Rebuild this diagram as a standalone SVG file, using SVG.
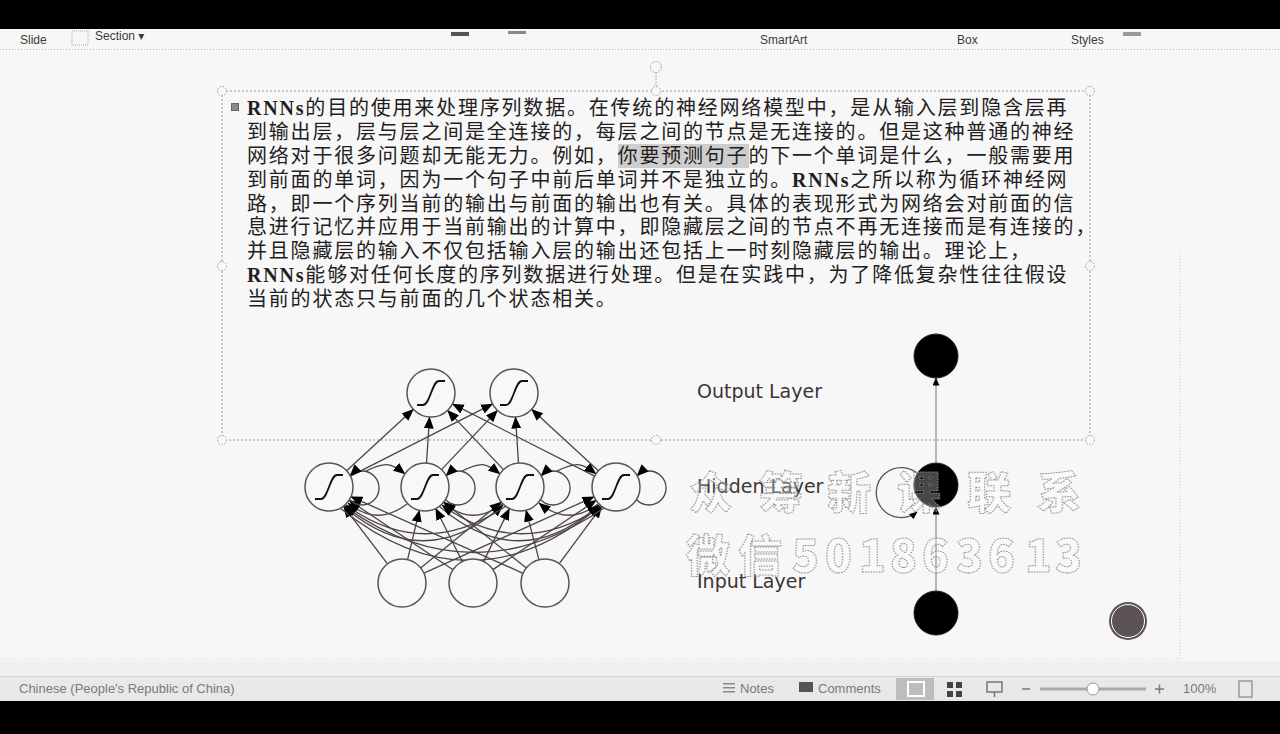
<svg xmlns="http://www.w3.org/2000/svg" width="1280" height="734" viewBox="0 0 1280 734">
<style>
.ui{font-family:"Liberation Sans","DejaVu Sans",sans-serif;font-size:12px;fill:#3a3a3a}
.st{font-family:"Liberation Sans","DejaVu Sans",sans-serif;font-size:13px;fill:#7a7a7a}
.body{font-family:"Noto Sans CJK SC",sans-serif;font-size:20px;letter-spacing:1.8px;fill:#241d1d}
.b{font-family:"Liberation Serif","Noto Sans CJK SC",serif;font-weight:bold}
.lbl{font-family:"DejaVu Sans",sans-serif;font-size:19px;fill:#3b3434}
.nd{fill:#f8f8f8;stroke:#5b5353;stroke-width:1.5}
.sig{fill:none;stroke:#111;stroke-width:1.8}
.e{fill:none;stroke:#4d4545;stroke-width:1.3;marker-end:url(#ah)}
.hd{fill:#f8f8f8;stroke:#9a9a9a;stroke-width:1;stroke-dasharray:1.5 1.5}
.wm{font-family:"Noto Sans CJK SC",sans-serif;font-weight:900;font-size:44px;fill:#ffffff;fill-opacity:0.3;stroke:#8a8a8a;stroke-width:1;stroke-dasharray:1.5 1.2}
.blk{fill:#000;stroke:#222;stroke-width:1}
.rl{stroke:#8c8c8c;stroke-width:1.2;fill:none;marker-end:url(#sa)}
</style>
<defs>
<marker id="ah" viewBox="0 0 12 10" refX="11.5" refY="5" markerWidth="12" markerHeight="10" markerUnits="userSpaceOnUse" orient="auto"><path d="M0,0 L12,5 L0,10 z" fill="#000"/></marker>
<marker id="sa" viewBox="0 0 8 7" refX="7.5" refY="3.5" markerWidth="8" markerHeight="7" markerUnits="userSpaceOnUse" orient="auto"><path d="M0,0 L8,3.5 L0,7 z" fill="#000"/></marker>
<path id="sg" d="M-14,12 H-8 C-1,12 1,-12 8,-12 H14" class="sig"/>
</defs>

<!-- window chrome -->
<rect x="0" y="0" width="1280" height="734" fill="#f7f7f7"/>
<rect x="0" y="0" width="1280" height="29" fill="#000"/>
<rect x="0" y="29" width="1280" height="20" fill="#f7f7f7"/>
<line x1="0" y1="49.5" x2="1280" y2="49.5" stroke="#b5b5b5" stroke-dasharray="1 2"/>
<text class="ui" x="20" y="44">Slide</text>
<rect x="72" y="31" width="16" height="14" fill="none" stroke="#aaa" stroke-dasharray="1 1"/>
<text class="ui" x="95" y="40">Section ▾</text>
<rect x="451" y="32" width="18" height="4" fill="#555"/>
<rect x="508" y="31" width="18" height="3" fill="#888"/>
<rect x="1123" y="32" width="18" height="4" fill="#999"/>
<text class="ui" x="760" y="44">SmartArt</text>
<text class="ui" x="957" y="44">Box</text>
<text class="ui" x="1071" y="44">Styles</text>

<!-- slide edges -->
<line x1="1180" y1="250" x2="1180" y2="660" stroke="#d0d0d0" stroke-dasharray="1 2"/>
<line x1="0" y1="659" x2="1180" y2="659" stroke="#d0d0d0" stroke-dasharray="1 2"/>
<rect x="0" y="661" width="1280" height="15" fill="#f0f0f0"/>

<!-- status bar -->
<rect x="0" y="676" width="1280" height="25" fill="#e8e8e8"/>
<line x1="0" y1="676.5" x2="1280" y2="676.5" stroke="#d4d4d4"/>
<text class="st" x="19" y="693">Chinese (People's Republic of China)</text>
<g fill="#8a8a8a"><rect x="723" y="683" width="12" height="1.5"/><rect x="723" y="687" width="12" height="1.5"/><rect x="723" y="691" width="12" height="1.5"/></g>
<text class="st" x="740" y="693">Notes</text>
<rect x="799" y="682" width="14" height="10" fill="#555"/>
<text class="st" x="818" y="693">Comments</text>
<rect x="896" y="678" width="38" height="22" fill="#bdbdbd"/>
<rect x="908" y="682" width="16" height="14" fill="none" stroke="#fff" stroke-width="2"/>
<g fill="#444"><rect x="947" y="682" width="6" height="6"/><rect x="956" y="682" width="6" height="6"/><rect x="947" y="691" width="6" height="6"/><rect x="956" y="691" width="6" height="6"/></g>
<rect x="987" y="682" width="15" height="10" fill="none" stroke="#777" stroke-width="1.5"/>
<line x1="994.5" y1="692" x2="994.5" y2="697" stroke="#777" stroke-width="1.5"/>
<line x1="1022" y1="689" x2="1030" y2="689" stroke="#777" stroke-width="1.5"/>
<line x1="1040" y1="689" x2="1146" y2="689" stroke="#aaa" stroke-width="3"/>
<circle cx="1093" cy="689" r="6" fill="#fff" stroke="#999"/>
<path d="M1155,689 H1164 M1159.5,684.5 V693.5" stroke="#777" stroke-width="1.5"/>
<text class="st" x="1183" y="693">100%</text>
<rect x="1239" y="681" width="13" height="16" fill="none" stroke="#999" stroke-width="1.5"/>
<rect x="0" y="701" width="1280" height="33" fill="#000"/>

<!-- text box -->
<g id="textbox">
<rect x="222" y="91" width="868" height="349" fill="none" stroke="#9a9a9a" stroke-width="1" stroke-dasharray="2 2"/>
<line x1="656" y1="73" x2="656" y2="87" stroke="#9a9a9a" stroke-dasharray="1 1"/>
<circle cx="656" cy="67" r="5.5" fill="#f8f8f8" stroke="#9a9a9a" stroke-dasharray="1.5 1"/>
<circle class="hd" cx="222" cy="91" r="4.5"/><circle class="hd" cx="656" cy="91" r="4.5"/><circle class="hd" cx="1090" cy="91" r="4.5"/>
<circle class="hd" cx="222" cy="266" r="4.5"/><circle class="hd" cx="1090" cy="266" r="4.5"/>
<circle class="hd" cx="222" cy="440" r="4.5"/><circle class="hd" cx="656" cy="440" r="4.5"/><circle class="hd" cx="1090" cy="440" r="4.5"/>
<rect x="231.5" y="103.5" width="7" height="7" fill="#8a8a8a" stroke="#666" stroke-width="1"/>
<rect x="618" y="144" width="131" height="24" fill="#cdcdcd"/>
<text class="body" x="247" y="115"><tspan class="b">RNNs</tspan>的目的使用来处理序列数据。在传统的神经网络模型中，是从输入层到隐含层再</text>
<text class="body" x="247" y="139">到输出层，层与层之间是全连接的，每层之间的节点是无连接的。但是这种普通的神经</text>
<text class="body" x="247" y="163">网络对于很多问题却无能无力。例如，你要预测句子的下一个单词是什么，一般需要用</text>
<text class="body" x="247" y="187">到前面的单词，因为一个句子中前后单词并不是独立的。<tspan class="b">RNNs</tspan>之所以称为循环神经网</text>
<text class="body" x="247" y="211">路，即一个序列当前的输出与前面的输出也有关。具体的表现形式为网络会对前面的信</text>
<text class="body" x="247" y="234">息进行记忆并应用于当前输出的计算中，即隐藏层之间的节点不再无连接而是有连接的，</text>
<text class="body" x="247" y="258">并且隐藏层的输入不仅包括输入层的输出还包括上一时刻隐藏层的输出。理论上，</text>
<text class="body" x="247" y="282"><tspan class="b">RNNs</tspan>能够对任何长度的序列数据进行处理。但是在实践中，为了降低复杂性往往假设</text>
<text class="body" x="247" y="306">当前的状态只与前面的几个状态相关。</text>
</g>

<!-- left network connectors -->
<g id="connectors">
<path class="e" d="M346.6,470.7 L413.4,409.3"/>
<path class="e" d="M350.4,476.1 L492.6,403.9"/>
<path class="e" d="M426.5,463 L429.5,417"/>
<path class="e" d="M441.5,469.6 L497.5,410.4"/>
<path class="e" d="M503.5,469.6 L447.5,410.4"/>
<path class="e" d="M518.5,463 L515.5,417"/>
<path class="e" d="M594.6,476.1 L452.4,403.9"/>
<path class="e" d="M598.4,470.7 L531.6,409.3"/>
<path class="e" d="M387.5,563.9 L343.5,506.1"/>
<path class="e" d="M407.6,559.6 L419.4,510.4"/>
<path class="e" d="M420.6,567.9 L501.4,502.1"/>
<path class="e" d="M423.9,573.2 L594.1,496.8"/>
<path class="e" d="M453,569.7 L349,500.3"/>
<path class="e" d="M462.3,561.5 L435.7,508.5"/>
<path class="e" d="M483.6,561.4 L509.4,508.6"/>
<path class="e" d="M492.9,569.6 L596.1,500.4"/>
<path class="e" d="M523.1,573.3 L350.9,496.7"/>
<path class="e" d="M526.3,568 L443.7,502"/>
<path class="e" d="M539,559.8 L526,510.2"/>
<path class="e" d="M559.3,563.7 L601.7,506.3"/>
<path class="e" d="M350,500 A17,17 0 1 0 350,476"/>
<path class="e" d="M446,500 A17,17 0 1 0 446,476"/>
<path class="e" d="M541,500 A17,17 0 1 0 541,476"/>
<path class="e" d="M637,500 A17,17 0 1 0 637,476"/>
<path class="e" d="M366,471 C385,462 390,462 405,474"/>
<path class="e" d="M462,471 C481,462 485,462 500,474"/>
<path class="e" d="M557,471 C576,462 581,462 596,474"/>
<path class="e" d="M407,504 Q377,527 348,503"/>
<path class="e" d="M502,504 Q472,527 444,503"/>
<path class="e" d="M598,504 Q568,527 539,503"/>
<path class="e" d="M343,506 Q424,576 503,505"/>
<path class="e" d="M506,506 Q424,562 346,505"/>
<path class="e" d="M439,506 Q520,576 599,505"/>
<path class="e" d="M602,506 Q520,562 442,505"/>
<path class="e" d="M340,508 Q472,614 600,506"/>
<path class="e" d="M604,508 Q472,598 344,506"/>
<path class="rl" d="M936,591 L936,507"/>
<path class="rl" d="M936,462 L936,378"/>
<path d="M920,476 A25,25 0 1 0 917,512" fill="none" stroke="#5b5353" stroke-width="1.3" marker-end="url(#sa)"/>
</g>

<!-- left network nodes -->
<g id="out1"><circle class="nd" cx="431" cy="393" r="24"/><use href="#sg" x="431" y="393"/></g>
<g id="out2"><circle class="nd" cx="514" cy="393" r="24"/><use href="#sg" x="514" y="393"/></g>
<g id="hid1"><circle class="nd" cx="329" cy="487" r="24"/><use href="#sg" x="329" y="487"/></g>
<g id="hid2"><circle class="nd" cx="425" cy="487" r="24"/><use href="#sg" x="425" y="487"/></g>
<g id="hid3"><circle class="nd" cx="520" cy="487" r="24"/><use href="#sg" x="520" y="487"/></g>
<g id="hid4"><circle class="nd" cx="616" cy="487" r="24"/><use href="#sg" x="616" y="487"/></g>
<g id="in1"><circle class="nd" cx="402" cy="583" r="24"/></g>
<g id="in2"><circle class="nd" cx="473" cy="583" r="24"/></g>
<g id="in3"><circle class="nd" cx="545" cy="583" r="24"/></g>

<!-- right diagram nodes -->
<g id="r-out"><circle class="blk" cx="936" cy="356" r="22"/></g>
<g id="r-hid"><circle class="blk" cx="936" cy="485" r="22"/></g>
<g id="r-in"><circle class="blk" cx="936" cy="613" r="22"/></g>

<g id="labels">
<text class="lbl" x="697" y="398">Output Layer</text>
<text class="lbl" x="697" y="493">Hidden Layer</text>
<text class="lbl" x="697" y="588">Input Layer</text>
</g>

<!-- watermark -->
<g id="watermark">
<text class="wm" x="689 759 827 897 967 1037" y="509">众筹新课联系</text>
<text class="wm" x="686 738 792 825 859 890 922 956 988 1025 1055" y="572">微信501863613</text>
</g>

<g id="button">
<circle cx="1128" cy="621" r="19" fill="#5c5454"/>
<circle cx="1128" cy="621" r="16.5" fill="none" stroke="#fff" stroke-width="1"/>
</g>
</svg>
